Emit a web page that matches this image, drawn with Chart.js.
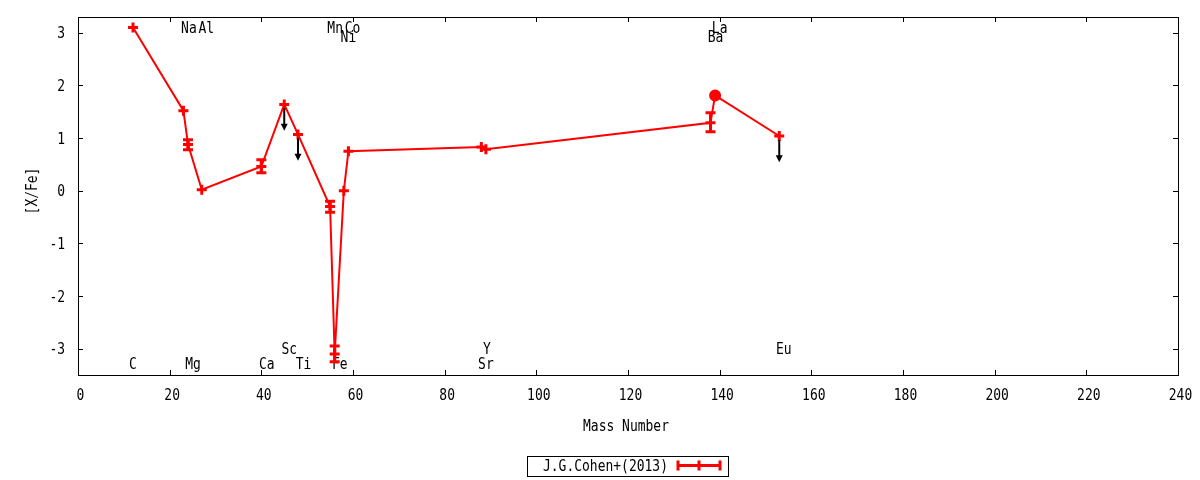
<!DOCTYPE html>
<html>
<head>
<meta charset="utf-8">
<title>[X/Fe] vs Mass Number</title>
<script src="https://cdn.jsdelivr.net/npm/chart.js@4"></script>
<style>
  html, body { margin: 0; padding: 0; background: #fff; }
  canvas { display: block; }
</style>
</head>
<body>
<canvas id="abundChart" width="1200" height="480"></canvas>
<script>
const fontName = '"DejaVu Sans Mono", "Liberation Mono", monospace';
const red = '#ff0000';

// abundance pattern, sorted by mass number
const elements = ['C', 'Na', 'Mg', 'Al', 'Ca', 'Sc', 'Ti', 'Mn', 'Fe', 'Ni', 'Co', 'Sr', 'Y', 'Ba', 'La', 'Eu'];
const massNumber = [12, 23, 24, 27, 40, 45, 48, 55, 56, 58, 59, 88, 89, 138, 139, 153];
const xFe = [3.10, 1.52, 0.88, 0.02, 0.46, 1.64, 1.07, -0.30, -3.10, 0.00, 0.75, 0.83, 0.79, 1.29, 1.81, 1.04];
const errLow = [null, null, 0.78, null, 0.34, null, null, -0.41, -3.25, null, null, null, null, 1.12, null, null];
const errHigh = [null, null, 0.97, null, 0.59, null, null, -0.20, -2.95, null, null, null, null, 1.48, null, null];
const upperLimit = [false, false, false, false, false, true, true, false, false, false, false, false, false, false, false, true];

// element name labels (data coordinates)
const labelX = [12, 24.2, 25.1, 28, 41.2, 46.1, 49.2, 56.1, 57.1, 59, 59.9, 89, 89.2, 139.1, 140, 154];
const labelY = [-3.29, 3.11, -3.29, 3.11, -3.29, -3.0, -3.29, 3.11, -3.29, 2.93, 3.11, -3.29, -3.0, 2.93, 3.11, -3.0];

const xTicks = [0, 20, 40, 60, 80, 100, 120, 140, 160, 180, 200, 220, 240];
const yTicks = [-3, -2, -1, 0, 1, 2, 3];
const legendLabel = 'J.G.Cohen+(2013)';

// gnuplot-ish narrow text: monospace squeezed horizontally
const textSize = 15;
const squeeze = 0.865;
const capHalf = 5.5;

function drawText(ctx, text, x, y, align, angle) {
  ctx.save();
  ctx.translate(x, y);
  if (angle) ctx.rotate(angle);
  ctx.scale(squeeze, 1);
  ctx.font = textSize + 'px ' + fontName;
  ctx.fillStyle = '#000';
  ctx.textAlign = align;
  ctx.textBaseline = 'alphabetic';
  ctx.fillText(text, 0, 0);
  ctx.restore();
}

const labelsPlugin = {
  id: 'elementLabels',
  beforeDatasetsDraw(chart) {
    const ctx = chart.ctx;
    const xs = chart.scales.x, ys = chart.scales.y;
    for (let i = 0; i < elements.length; i++) {
      drawText(ctx, elements[i], xs.getPixelForValue(labelX[i]), ys.getPixelForValue(labelY[i]) + capHalf, 'center');
    }
  }
};

function drawCapBar(ctx, x, y1, y2) {
  ctx.beginPath();
  ctx.moveTo(x, y1);
  ctx.lineTo(x, y2);
  ctx.moveTo(x - 5, y1);
  ctx.lineTo(x + 5, y1);
  ctx.moveTo(x - 5, y2);
  ctx.lineTo(x + 5, y2);
  ctx.stroke();
}

const errorPlugin = {
  id: 'errorsAndLimits',
  afterDatasetsDraw(chart) {
    const ctx = chart.ctx;
    const xs = chart.scales.x, ys = chart.scales.y;
    ctx.save();
    ctx.strokeStyle = red;
    ctx.lineWidth = 3;
    for (let i = 0; i < massNumber.length; i++) {
      if (errLow[i] === null) continue;
      const px = xs.getPixelForValue(massNumber[i]);
      drawCapBar(ctx, px, ys.getPixelForValue(errHigh[i]), ys.getPixelForValue(errLow[i]));
    }
    // upper limits
    ctx.strokeStyle = '#000';
    ctx.fillStyle = '#000';
    ctx.lineWidth = 2;
    for (let i = 0; i < massNumber.length; i++) {
      if (!upperLimit[i]) continue;
      const px = xs.getPixelForValue(massNumber[i]);
      const y0 = ys.getPixelForValue(xFe[i]) + 4;
      const tip = ys.getPixelForValue(xFe[i] - 0.5);
      ctx.beginPath();
      ctx.moveTo(px, y0);
      ctx.lineTo(px, tip - 6);
      ctx.stroke();
      ctx.beginPath();
      ctx.moveTo(px, tip);
      ctx.lineTo(px - 3.5, tip - 7);
      ctx.lineTo(px + 3.5, tip - 7);
      ctx.closePath();
      ctx.fill();
    }
    ctx.restore();
  }
};

const framePlugin = {
  id: 'frameAndTicks',
  afterDraw(chart) {
    const ctx = chart.ctx;
    const a = chart.chartArea;
    const xs = chart.scales.x, ys = chart.scales.y;
    ctx.save();
    ctx.strokeStyle = '#000';
    ctx.lineWidth = 1;
    ctx.strokeRect(Math.round(a.left) + 0.5, Math.round(a.top) + 0.5,
      Math.round(a.right - a.left), Math.round(a.bottom - a.top));
    ctx.beginPath();
    xs.ticks.forEach(t => {
      const px = Math.round(xs.getPixelForValue(t.value)) + 0.5;
      ctx.moveTo(px, a.bottom);
      ctx.lineTo(px, a.bottom - 5);
      ctx.moveTo(px, a.top);
      ctx.lineTo(px, a.top + 5);
    });
    ys.ticks.forEach(t => {
      const py = Math.round(ys.getPixelForValue(t.value)) + 0.5;
      ctx.moveTo(a.left, py);
      ctx.lineTo(a.left + 5, py);
      ctx.moveTo(a.right, py);
      ctx.lineTo(a.right - 5, py);
    });
    ctx.stroke();
    ctx.restore();

    // tick labels and axis titles
    xs.ticks.forEach(t => {
      drawText(ctx, String(t.value), xs.getPixelForValue(t.value) + 2.5, a.bottom + 25, 'center');
    });
    ys.ticks.forEach(t => {
      drawText(ctx, String(t.value), a.left - 13, ys.getPixelForValue(t.value) + capHalf, 'right');
    });
    drawText(ctx, 'Mass Number', (a.left + a.right) / 2 - 2, 430.5, 'center');
    drawText(ctx, '[X/Fe]', 37, (a.top + a.bottom) / 2 - 5, 'center', -Math.PI / 2);

    // legend box
    ctx.save();
    ctx.strokeStyle = '#000';
    ctx.lineWidth = 1;
    ctx.strokeRect(527.5, 456.5, 201, 20);
    ctx.restore();
    drawText(ctx, legendLabel, 543, 471, 'left');
    ctx.save();
    ctx.strokeStyle = red;
    ctx.lineWidth = 3;
    ctx.beginPath();
    ctx.moveTo(678, 465.5);
    ctx.lineTo(720, 465.5);
    [678, 699, 720].forEach(x => {
      ctx.moveTo(x, 460.5);
      ctx.lineTo(x, 470.5);
    });
    ctx.stroke();
    ctx.restore();
  }
};

const ctx = document.getElementById('abundChart');

const abundChart = new Chart(ctx, {
  type: 'scatter',
  data: {
    datasets: [
      {
        label: legendLabel,
        data: massNumber.map((m, i) => ({ x: m, y: xFe[i] })),
        showLine: true,
        borderColor: red,
        backgroundColor: red,
        borderWidth: 2,
        pointStyle: c => (elements[c.dataIndex] === 'La' ? 'circle' : 'cross'),
        pointRadius: c => (elements[c.dataIndex] === 'La' ? 4.5 : 5),
        pointBorderWidth: 3,
        pointBorderColor: red,
        pointBackgroundColor: red,
        tension: 0,
      },
    ],
  },
  options: {
    responsive: false,
    animation: false,
    devicePixelRatio: 1,
    layout: { padding: { top: 17, right: 22, left: 0, bottom: 0 } },
    plugins: {
      legend: { display: false },
      tooltip: { enabled: false },
    },
    scales: {
      x: {
        type: 'linear',
        min: 0,
        max: 240,
        grid: { display: false, drawTicks: false },
        border: { display: false },
        ticks: { display: false },
        afterBuildTicks: scale => {
          scale.ticks = xTicks.map(v => ({ value: v }));
        },
        afterFit: scale => {
          scale.height = 105;
        },
      },
      y: {
        min: -3.5,
        max: 3.3,
        grid: { display: false, drawTicks: false },
        border: { display: false },
        ticks: { display: false },
        afterBuildTicks: scale => {
          scale.ticks = yTicks.map(v => ({ value: v }));
        },
        afterFit: scale => {
          scale.width = 78;
        },
      },
    },
  },
  plugins: [labelsPlugin, errorPlugin, framePlugin],
});
</script>
</body>
</html>
